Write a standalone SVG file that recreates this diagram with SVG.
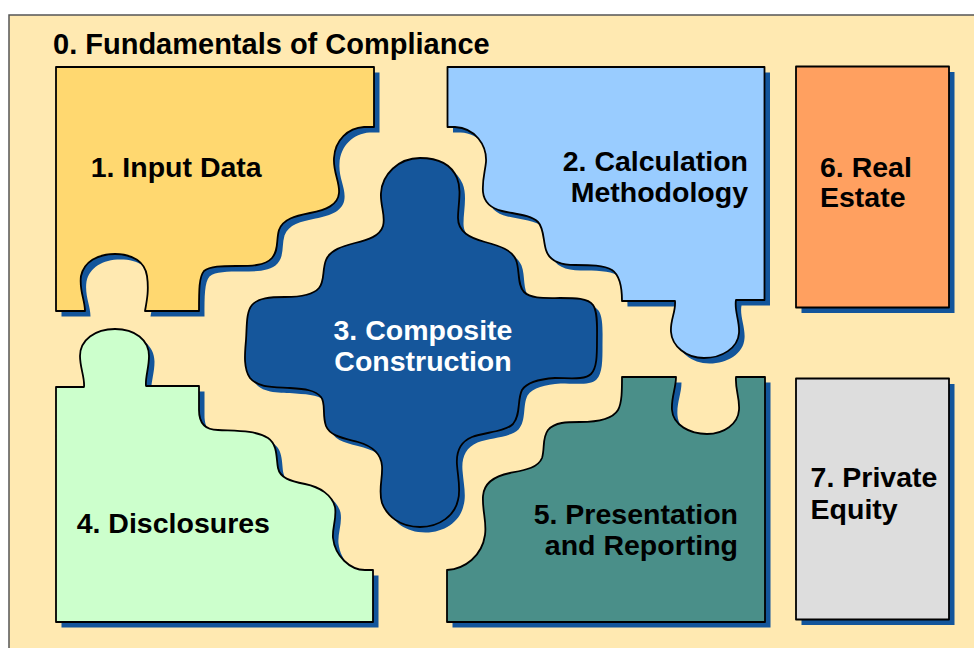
<svg xmlns="http://www.w3.org/2000/svg" xmlns:xlink="http://www.w3.org/1999/xlink" width="974" height="648" viewBox="0 0 974 648">
  <style>
    .frame { fill: #FFE9B1; stroke: #555555; stroke-width: 1.5; }
    .shadow { fill: #13559B; stroke: none; }
    .piece { stroke: #000000; stroke-width: 1.8; stroke-linejoin: round; }
    .label { font-family: "Liberation Sans", Arial, Helvetica, sans-serif; font-weight: bold; font-size: 28.5px; fill: #000000; }
    .title { font-size: 29px; }
    .light { fill: #FFFFFF; }
  </style>
  <defs>
    <!-- puzzle piece outlines -->
    <path id="shape-input" d="M56,67 H374 V127 H364 C348,128 335,140 334,158 C333,172 340,182 339,193 C338,205 326,210 310,213 C295,216 283,219 279,230 C276,240 279,250 272,258 C265,266 250,266 236,266 C222,266 210,266 204,271 C199,277 199,290 199,311 H145 C147,300 149,290 147,276 C145,262 133,254 115,254 C97,254 84,262 81,276 C79,290 85,300 85,311 H56 Z"/>
    <path id="shape-calc" d="M447.5,67 H764.5 V300 H736 C734,310 740,322 739,333 C738,348 722,358 704,358 C686,358 672,346 671,332 C670,320 676,312 675,301 H622 C622,290 621,276 612,270 C604,265 590,265 575,265 C560,265 549,260 546,250 C543,240 544,228 538,222 C531,215 515,214 502,211 C490,208 484,202 483,192 C482,180 485,172 486,162 C487,145 475,128 455,127 H447.5 Z"/>
    <path id="shape-composite" d="M420,158 C440,158 452,166 457,178 C462,190 458,205 458,218 C458,232 470,238 485,242 C500,246 512,250 516,260 C520,270 517,285 524,292 C531,299 545,298 560,298 C575,298 588,298 593,305 C598,312 597,328 597,340 C597,355 597,368 591,374 C585,380 570,378 555,378 C540,379 527,382 522,390 C517,400 521,415 513,424 C505,432 485,432 472,437 C460,442 456,452 457,465 C458,478 461,490 458,500 C455,515 440,527 420,527 C400,527 387,516 382,503 C378,490 383,478 382,466 C381,453 372,446 358,442 C343,438 330,436 326,426 C322,415 326,403 321,397 C315,390 305,389 290,388 C275,387 258,388 250,378 C243,368 245,352 246,340 C247,326 246,312 252,305 C258,298 270,297 285,297 C300,297 313,295 319,288 C325,281 322,270 326,260 C330,250 343,246 355,243 C368,240 380,236 383,226 C386,216 380,205 381,193 C382,175 398,158 420,158 Z"/>
    <path id="shape-disclosures" d="M56,387 H84 C85,378 80,368 80,356 C80,340 95,329 115,329 C135,329 149,340 149,356 C149,368 145,378 146,386 H199 V410 C199,422 204,430 218,430 C235,431 255,430 268,438 C278,445 276,458 278,468 C280,478 290,481 305,484 C320,487 332,495 335,507 C337,518 332,528 333,538 C335,556 350,570 365,570 H373 V622 H56 Z"/>
    <path id="shape-presentation" d="M447,622 V570 C465,569 482,556 485,535 C487,522 482,510 483,496 C484,482 495,476 510,473 C525,470 538,468 542,458 C545,448 542,438 548,430 C555,422 567,422 580,422 C595,422 612,420 618,410 C622,403 622,390 622,377 H676 C676,388 671,398 672,410 C673,425 690,434 707,434 C724,434 738,424 739,410 C740,398 735,390 736,377 H765 V622 Z"/>
    <rect id="shape-realestate" x="796" y="66.5" width="153" height="241"/>
    <rect id="shape-privateequity" x="796" y="378.5" width="153" height="241"/>
  </defs>

  <!-- outer frame: 0. Fundamentals of Compliance -->
  <g id="node-0-fundamentals">
    <rect class="frame" x="9" y="15" width="1000" height="700"/>
    <text class="label title" x="53" y="54">0. Fundamentals of Compliance</text>
  </g>

  <g id="node-1-input-data">
    <use xlink:href="#shape-input" class="shadow" transform="translate(5.5,5.5)"/>
    <use xlink:href="#shape-input" class="piece" fill="#FFD870"/>
    <text class="label" x="90.7" y="177">1. Input Data</text>
  </g>

  <g id="node-2-calculation">
    <use xlink:href="#shape-calc" class="shadow" transform="translate(5.5,5.5)"/>
    <use xlink:href="#shape-calc" class="piece" fill="#99CCFF"/>
    <text class="label" x="748" y="171" text-anchor="end">2. Calculation</text>
    <text class="label" x="748" y="202" text-anchor="end">Methodology</text>
  </g>

  <g id="node-3-composite">
    <use xlink:href="#shape-composite" class="shadow" transform="translate(5.5,5.5)"/>
    <use xlink:href="#shape-composite" class="piece" fill="#15569B"/>
    <text class="label light" x="423" y="340" text-anchor="middle">3. Composite</text>
    <text class="label light" x="423" y="370.5" text-anchor="middle">Construction</text>
  </g>

  <g id="node-4-disclosures">
    <use xlink:href="#shape-disclosures" class="shadow" transform="translate(5.5,5.5)"/>
    <use xlink:href="#shape-disclosures" class="piece" fill="#CCFFCC"/>
    <text class="label" x="76.7" y="533">4. Disclosures</text>
  </g>

  <g id="node-5-presentation">
    <use xlink:href="#shape-presentation" class="shadow" transform="translate(5.5,5.5)"/>
    <use xlink:href="#shape-presentation" class="piece" fill="#4A8F89"/>
    <text class="label" x="738" y="524" text-anchor="end">5. Presentation</text>
    <text class="label" x="738" y="555" text-anchor="end">and Reporting</text>
  </g>

  <g id="node-6-real-estate">
    <use xlink:href="#shape-realestate" class="shadow" transform="translate(5.5,5.5)"/>
    <use xlink:href="#shape-realestate" class="piece" fill="#FFA060"/>
    <text class="label" x="820" y="177">6. Real</text>
    <text class="label" x="820" y="207">Estate</text>
  </g>

  <g id="node-7-private-equity">
    <use xlink:href="#shape-privateequity" class="shadow" transform="translate(5.5,5.5)"/>
    <use xlink:href="#shape-privateequity" class="piece" fill="#DDDDDD"/>
    <text class="label" x="810.6" y="487">7. Private</text>
    <text class="label" x="810.6" y="519">Equity</text>
  </g>
</svg>
